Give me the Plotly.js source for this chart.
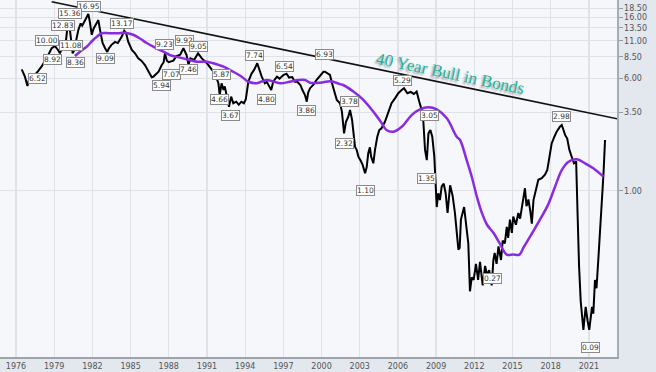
<!DOCTYPE html>
<html><head><meta charset="utf-8">
<script src="https://cdn.plot.ly/plotly-3.0.1.min.js"></script>
<style>html,body{margin:0;padding:0;background:#e3e7ee;}#c{width:656px;height:372px;}</style>
</head><body><div id="c"></div>
<script>
// 2-year yield (decimal year, percent)
const yieldYear = [1976.45,1976.7,1976.9,1977.05,1977.3,1977.5,1977.75,1978.0,1978.4,1978.8,1979.06,1979.3,1979.45,1979.67,1979.93,1980.03,1980.19,1980.3,1980.45,1980.55,1980.7,1980.9,1981.08,1981.2,1981.5,1981.68,1981.8,1981.95,1982.1,1982.34,1982.47,1982.6,1982.8,1983.0,1983.17,1983.3,1983.5,1983.78,1984.0,1984.3,1984.5,1984.65,1984.82,1985.1,1985.35,1985.6,1985.85,1986.13,1986.4,1986.66,1986.8,1987.2,1987.45,1987.6,1987.7,1987.85,1988.0,1988.36,1988.6,1988.9,1989.15,1989.4,1989.55,1989.7,1990.0,1990.3,1990.6,1991.0,1991.4,1991.63,1991.9,1992.0,1992.15,1992.3,1992.4,1992.55,1992.73,1992.9,1993.07,1993.3,1993.5,1993.7,1993.9,1994.05,1994.25,1994.5,1994.7,1994.95,1995.1,1995.3,1995.55,1995.7,1995.9,1996.05,1996.2,1996.5,1996.7,1997.0,1997.25,1997.45,1997.7,1997.9,1998.1,1998.35,1998.5,1998.7,1998.84,1998.95,1999.1,1999.4,1999.6,1999.9,2000.15,2000.27,2000.4,2000.66,2000.9,2001.2,2001.45,2001.6,2001.77,2001.92,2002.1,2002.24,2002.4,2002.5,2002.63,2002.76,2002.9,2003.1,2003.23,2003.42,2003.55,2003.67,2003.8,2003.9,2004.07,2004.2,2004.38,2004.54,2004.7,2004.98,2005.25,2005.5,2005.77,2006.03,2006.3,2006.48,2006.74,2007.0,2007.25,2007.47,2007.68,2007.87,2008.0,2008.13,2008.27,2008.4,2008.55,2008.7,2008.86,2008.94,2009.05,2009.17,2009.3,2009.44,2009.6,2009.75,2009.9,2010.1,2010.2,2010.3,2010.48,2010.62,2010.75,2010.85,2010.95,2011.2,2011.35,2011.53,2011.66,2011.8,2011.95,2012.13,2012.3,2012.45,2012.66,2012.85,2013.0,2013.17,2013.37,2013.5,2013.6,2013.75,2013.9,2014.1,2014.23,2014.4,2014.55,2014.66,2014.8,2014.95,2015.06,2015.27,2015.46,2015.6,2015.7,2015.85,2015.98,2016.1,2016.25,2016.4,2016.52,2016.65,2016.85,2017.03,2017.3,2017.55,2017.73,2017.9,2018.08,2018.29,2018.47,2018.73,2018.87,2019.0,2019.13,2019.3,2019.47,2019.65,2019.83,2020.0,2020.05,2020.12,2020.23,2020.36,2020.57,2020.75,2020.9,2021.03,2021.25,2021.35,2021.48,2021.6,2021.74,2021.88,2022.0,2022.15,2022.27];
const yieldValue = [6.97,6.19,5.33,6.03,6.1,6.36,6.8,7.26,8.3,9.75,10.1,9.49,9.0,10.0,11.1,13.4,14.1,11.7,9.0,9.3,10.8,13.1,14.5,14.0,15.7,16.9,14.9,12.1,13.4,14.5,15.3,13.1,10.6,9.75,9.2,9.75,10.3,10.8,10.6,11.7,12.9,12.4,10.8,9.5,9.0,8.3,8.0,7.46,6.7,6.13,6.2,6.7,7.46,7.8,9.0,8.0,7.8,8.0,8.6,8.8,9.75,8.75,7.46,8.3,8.1,9.0,8.3,7.67,6.9,6.5,5.57,4.62,5.57,5.0,5.3,4.62,3.83,4.5,4.05,4.15,3.95,4.15,4.05,4.3,5.71,6.5,6.9,7.67,6.9,6.19,5.57,5.7,5.28,5.0,5.71,6.19,6.0,6.36,6.5,6.1,6.15,5.71,5.7,5.4,5.0,4.62,4.15,4.8,5.15,5.5,5.87,6.36,6.7,6.7,6.6,6.36,5.28,4.26,4.05,3.54,2.5,3.01,3.26,3.63,3.1,2.64,2.02,1.92,1.72,1.6,1.51,1.32,1.46,1.82,2.0,1.72,1.55,1.92,2.37,2.64,2.7,3.01,3.54,4.05,4.38,4.75,5.0,5.15,4.75,4.85,4.7,4.88,4.15,3.63,3.01,1.92,1.63,2.5,2.64,2.37,1.72,1.13,0.77,0.96,0.86,1.07,1.12,0.96,0.7,1.09,1.0,0.92,0.7,0.53,0.39,0.4,0.63,0.77,0.6,0.43,0.2,0.25,0.24,0.31,0.24,0.32,0.22,0.3,0.26,0.28,0.22,0.33,0.37,0.31,0.41,0.33,0.45,0.43,0.56,0.47,0.63,0.51,0.66,0.58,0.7,0.64,0.73,0.86,1.04,0.78,0.87,0.72,0.59,0.86,1.01,1.19,1.22,1.29,1.39,1.72,2.13,2.37,2.57,2.78,2.86,2.65,2.44,2.3,1.92,1.72,1.55,1.6,1.25,0.66,0.3,0.17,0.108,0.156,0.125,0.108,0.156,0.14,0.24,0.21,0.33,0.51,0.82,1.32,2.25];

// moving average
const maYear = [1980.63,1981.0,1981.55,1982.0,1982.34,1982.73,1983.3,1984.0,1984.56,1985.2,1985.74,1986.27,1987.05,1987.84,1988.1,1988.62,1989.15,1990.2,1991.0,1991.5,1992.3,1993.07,1993.73,1994.25,1994.9,1995.7,1996.74,1997.5,1998.18,1998.7,1999.1,1999.9,2000.7,2001.45,2001.7,2002.5,2003.3,2004.07,2004.73,2005.1,2005.64,2006.3,2007.08,2007.73,2008.4,2009.05,2009.84,2010.62,2010.88,2011.4,2011.8,2012.2,2012.6,2013.0,2013.5,2014.0,2014.55,2015.06,2015.55,2015.85,2016.38,2017.16,2017.8,2018.35,2018.87,2019.4,2020.05,2020.7,2021.35,2022.15];
const maValue = [8.62,9.2,10.0,11.0,11.7,12.4,12.4,12.4,12.5,12.1,11.4,10.6,9.75,9.0,8.75,8.5,8.3,7.87,7.87,7.67,7.26,6.7,6.19,5.71,5.57,5.87,5.57,5.71,5.87,5.87,5.62,5.62,5.75,5.5,5.42,4.88,4.26,3.54,2.94,2.64,2.57,2.78,3.35,3.67,3.8,3.67,3.18,2.37,2.25,1.63,1.25,0.91,0.7,0.58,0.51,0.43,0.36,0.36,0.36,0.4,0.48,0.63,0.8,1.07,1.39,1.59,1.65,1.55,1.43,1.25];

// 40-year trendline
const trendYear = [1978.8, 2023.3];
const trendValue = [20.5, 3.15];

// peak / trough labels
const labelText = ['16.95','15.36','12.83','10.00','11.08','8.92','8.36','6.52','13.17','9.09','5.94','9.23','7.07','9.92','9.05','7.46','5.87','4.66','3.67','7.74','4.80','6.54','3.86','6.93','3.78','2.32','1.10','5.29','3.05','1.35','2.98','0.27','0.09'];
const labelYear = [1981.73,1980.24,1979.72,1978.4,1980.35,1978.85,1980.65,1977.67,1984.3,1983.05,1987.39,1987.7,1988.23,1989.22,1990.32,1989.53,1992.16,1991.97,1992.81,1994.77,1995.69,1997.13,1998.78,2000.27,2002.18,2001.77,2003.42,2006.38,2008.47,2008.21,2018.87,2013.42,2021.09];
const labelAt = [18.9,16.9,14.0,11.0,10.2,8.18,7.74,5.97,14.5,8.3,5.42,10.3,6.46,11.0,10.0,6.89,6.43,4.31,3.35,8.66,4.31,7.34,3.58,8.76,4.15,2.11,1.0,5.81,3.32,1.22,3.30,0.244,0.081];

const yTickVals = [1.0,3.5,6.0,8.5,11.0,13.5,16.0,18.5];
const yTickText = ['1.00','3.50','6.00','8.50','11.00','13.50','16.00','18.50'];
const xTickVals = [1976,1979,1982,1985,1988,1991,1994,1997,2000,2003,2006,2009,2012,2015,2018,2021];
const xTickText = xTickVals.map(String);

const traces = [
  {x: yieldYear, y: yieldValue, type:'scatter', mode:'lines', line:{color:'#000', width:2}, hoverinfo:'skip'},
  {x: maYear, y: maValue, type:'scatter', mode:'lines', line:{color:'#8a2be2', width:2.5, shape:'spline', smoothing:1}, hoverinfo:'skip'},
  {x: trendYear, y: trendValue, type:'scatter', mode:'lines', line:{color:'#111', width:1.6}, hoverinfo:'skip'}
];

const annotations = labelText.map((t,i)=>({
  x: labelYear[i], y: Math.log10(labelAt[i]), xref:'x', yref:'y', text: t, showarrow:false,
  font:{family:'DejaVu Sans, Arial', size:7.5, color:'#333'},
  bgcolor:'#ffffff', bordercolor:'#8a8a8a', borderwidth:1, borderpad:0
}));
annotations.push({
  x: 2010.1, y: Math.log10(6.56), xref:'x', yref:'y', text:'40 Year Bull in Bonds', showarrow:false,
  textangle: 11.7,
  font:{family:'Liberation Serif, Times New Roman, serif', size:17, color:'#22b39b', shadow:'-1px 2px 2px #a0a0a0'}
});

const layout = {
  width:656, height:372,
  margin:{l:0, r:39, t:0, b:15, pad:0},
  paper_bgcolor:'#e3e7ee', plot_bgcolor:'#f5f7fb',
  showlegend:false,
  xaxis:{range:[1974.743, 2023.21], tickmode:'array', tickvals:xTickVals, ticktext:xTickText,
    showgrid:true, gridcolor:'#e0e2e8', gridwidth:1.3, zeroline:false,
    showline:true, linecolor:'#9ea2aa', linewidth:2, ticks:'',
    tickfont:{family:'DejaVu Sans, Arial', size:8, color:'#555'}},
  yaxis:{type:'log', side:'right', range:[-1.155, 1.3243], tickmode:'array', tickvals:yTickVals, ticktext:yTickText,
    showgrid:true, gridcolor:'#e0e2e8', gridwidth:1, zeroline:false,
    showline:true, linecolor:'#a8acb4', linewidth:1.5, ticks:'outside', ticklen:4, tickcolor:'#999',
    tickfont:{family:'DejaVu Sans, Arial', size:8, color:'#555'}},
  annotations: annotations
};
Plotly.newPlot('c', traces, layout, {staticPlot:true, displayModeBar:false});
</script></body></html>
